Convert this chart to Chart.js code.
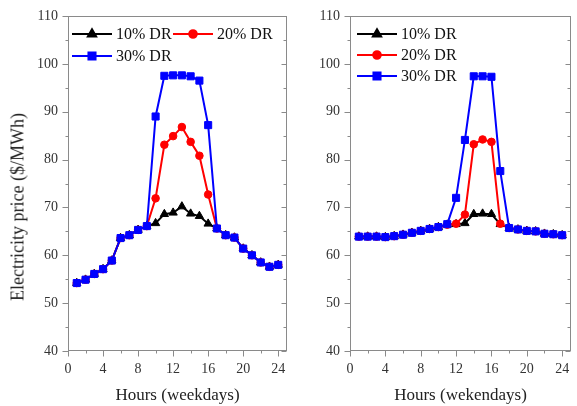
<!DOCTYPE html>
<html>
<head>
<meta charset="utf-8">
<script src="https://cdn.jsdelivr.net/npm/chart.js@4.4.0/dist/chart.umd.min.js"></script>
<style>
html, body { margin: 0; padding: 0; background: #fff; }
#wrap { position: relative; width: 577px; height: 406px; overflow: hidden; }
.box { position: absolute; top: 0; height: 406px; }
#ylab {
    position: absolute; left: 18px; top: 207px;
    transform: translate(-50%, -50%) rotate(-90deg);
    font: 18px "Liberation Serif", serif; white-space: nowrap; color: #222;
}
</style>
</head>
<body>
<div id="wrap">
    <div class="box" style="left:0;width:293px"><canvas id="weekday-chart"></canvas></div>
    <div class="box" style="left:290px;width:287px"><canvas id="weekend-chart"></canvas></div>
    <div id="ylab">Electricity price ($/MWh)</div>
</div>
<script>
'use strict';

// hours of the day
var hours = [1, 2, 3, 4, 5, 6, 7, 8, 9, 10, 11, 12, 13, 14, 15, 16, 17, 18, 19, 20, 21, 22, 23, 24];

// weekdays, $/MWh
var wkd10 = [54.2, 54.9, 56.1, 57.1, 58.9, 63.6, 64.2, 65.3, 66.1, 66.7, 68.6, 68.9, 70.2, 68.7, 68.2, 66.6, 65.6, 64.2, 63.7, 61.4, 60.0, 58.5, 57.6, 58.0];
var wkd20 = [54.2, 54.9, 56.1, 57.1, 58.9, 63.6, 64.2, 65.3, 66.1, 71.9, 83.1, 84.9, 86.8, 83.7, 80.8, 72.7, 65.6, 64.2, 63.7, 61.4, 60.0, 58.5, 57.6, 58.0];
var wkd30 = [54.2, 54.9, 56.1, 57.1, 58.9, 63.6, 64.2, 65.3, 66.1, 89.0, 97.5, 97.6, 97.6, 97.4, 96.5, 87.2, 65.6, 64.2, 63.7, 61.4, 60.0, 58.5, 57.6, 58.0];

// weekends, $/MWh
var wke10 = [63.9, 63.9, 63.9, 63.8, 64.0, 64.3, 64.7, 65.1, 65.5, 65.9, 66.4, 66.5, 66.7, 68.6, 68.7, 68.6, 66.5, 65.7, 65.4, 65.1, 65.0, 64.5, 64.4, 64.2];
var wke20 = [63.9, 63.9, 63.9, 63.8, 64.0, 64.3, 64.7, 65.1, 65.5, 65.9, 66.4, 66.6, 68.5, 83.2, 84.2, 83.7, 66.6, 65.7, 65.4, 65.1, 65.0, 64.5, 64.4, 64.2];
var wke30 = [63.9, 63.9, 63.9, 63.8, 64.0, 64.3, 64.7, 65.1, 65.5, 65.9, 66.5, 72.0, 84.1, 97.4, 97.4, 97.3, 77.6, 65.7, 65.4, 65.1, 65.0, 64.5, 64.4, 64.2];

var seriesLabels = ['10% DR', '20% DR', '30% DR'];

var axisColor = '#8a8a8a';
var textColor = '#333';
var serif = '"Liberation Serif", "Times New Roman", serif';

function pts(arr) {
    return hours.map(function (h, i) { return { x: h, y: arr[i] }; });
}

function makeSets(a10, a20, a30) {
    // 30% first so it is drawn on top
    return [
        { label: seriesLabels[2], data: pts(a30), borderColor: '#0000ff', backgroundColor: '#0000ff', pointStyle: 'rect', pointRadius: 5 },
        { label: seriesLabels[1], data: pts(a20), borderColor: '#ff0000', backgroundColor: '#ff0000', pointStyle: 'circle', pointRadius: 3.8 },
        { label: seriesLabels[0], data: pts(a10), borderColor: '#000000', backgroundColor: '#000000', pointStyle: 'triangle', pointRadius: 4.8 }
    ];
}

// frame, tick marks and the inset legend
var framePlugin = {
    id: 'frameTicks',
    afterDraw: function (chart, args, opts) {
        var ctx = chart.ctx, a = chart.chartArea;
        var xs = chart.scales.x, ys = chart.scales.y;
        var L = Math.round(a.left) + 0.5, R = Math.round(a.right) - 0.5;
        var T = Math.round(a.top) + 0.5, B = Math.round(a.bottom) - 0.5;
        ctx.save();
        ctx.strokeStyle = axisColor;
        ctx.lineWidth = 1;
        ctx.strokeRect(L, T, R - L, B - T);
        ctx.beginPath();
        ys.ticks.forEach(function (t) {
            var y = Math.round(ys.getPixelForValue(t.value)) + 0.5;
            var major = t.value % 10 === 0;
            ctx.moveTo(L, y); ctx.lineTo(L - (major ? 6 : 3), y);
            ctx.moveTo(R, y); ctx.lineTo(R - (major ? 5 : 3), y);
        });
        xs.ticks.forEach(function (t) {
            if (t.value > 24) return;
            var x = Math.round(xs.getPixelForValue(t.value)) + 0.5;
            var major = t.value % 4 === 0;
            ctx.moveTo(x, B); ctx.lineTo(x, B + (major ? 6 : 3));
        });
        ctx.stroke();

        // legend
        ctx.font = '16px ' + serif;
        ctx.textBaseline = 'middle';
        opts.items.forEach(function (it) {
            var ds = chart.data.datasets[it[0]];
            var x0 = a.left + it[1], y0 = a.top + it[2];
            ctx.strokeStyle = ds.borderColor;
            ctx.fillStyle = ds.backgroundColor;
            ctx.lineWidth = 2;
            ctx.beginPath();
            ctx.moveTo(x0, y0); ctx.lineTo(x0 + 40, y0);
            ctx.stroke();
            Chart.helpers.drawPoint(ctx, { pointStyle: ds.pointStyle, radius: ds.pointRadius, rotation: 0, borderWidth: 1 }, x0 + 20, y0);
            ctx.fillStyle = '#111';
            ctx.fillText(ds.label, x0 + 44, y0 + 1);
        });
        ctx.restore();
    }
};

function buildOptions(xTitle, yWidth, padRight, legendItems) {
    return {
        responsive: true,
        maintainAspectRatio: false,
        animation: false,
        layout: { padding: { left: 0, right: padRight, top: 16, bottom: 0 } },
        elements: {
            line: { borderWidth: 2, tension: 0 },
            point: { borderWidth: 1 }
        },
        plugins: {
            legend: { display: false },
            tooltip: { enabled: false },
            frameTicks: { items: legendItems }
        },
        scales: {
            x: {
                type: 'linear',
                min: 0,
                max: 25,
                grid: { display: false, tickLength: 6 },
                border: { display: false },
                ticks: {
                    stepSize: 2,
                    includeBounds: false,
                    autoSkip: false,
                    maxRotation: 0,
                    padding: 4,
                    color: textColor,
                    font: { family: serif, size: 14 },
                    callback: function (v) { return v % 4 === 0 ? v : ''; }
                },
                title: {
                    display: true,
                    text: xTitle,
                    color: '#222',
                    font: { family: serif, size: 17 },
                    padding: { top: 4, bottom: 0 }
                },
                afterFit: function (s) { s.height = 55; }
            },
            y: {
                min: 40,
                max: 110,
                grid: { display: false, tickLength: 6 },
                border: { display: false },
                ticks: {
                    stepSize: 5,
                    autoSkip: false,
                    padding: 4,
                    color: textColor,
                    font: { family: serif, size: 14 },
                    callback: function (v) { return v % 10 === 0 ? v : ''; }
                },
                afterFit: function (s) { s.width = yWidth; }
            }
        }
    };
}

new Chart(document.getElementById('weekday-chart'), {
    type: 'line',
    data: { datasets: makeSets(wkd10, wkd20, wkd30) },
    options: buildOptions('Hours (weekdays)', 68, 1, [[2, 4, 18], [1, 105, 18], [0, 4, 40]]),
    plugins: [framePlugin]
});

new Chart(document.getElementById('weekend-chart'), {
    type: 'line',
    data: { datasets: makeSets(wke10, wke20, wke30) },
    options: buildOptions('Hours (wekendays)', 60, 3, [[2, 7, 18], [1, 7, 39], [0, 7, 60]]),
    plugins: [framePlugin]
});
</script>
</body>
</html>
